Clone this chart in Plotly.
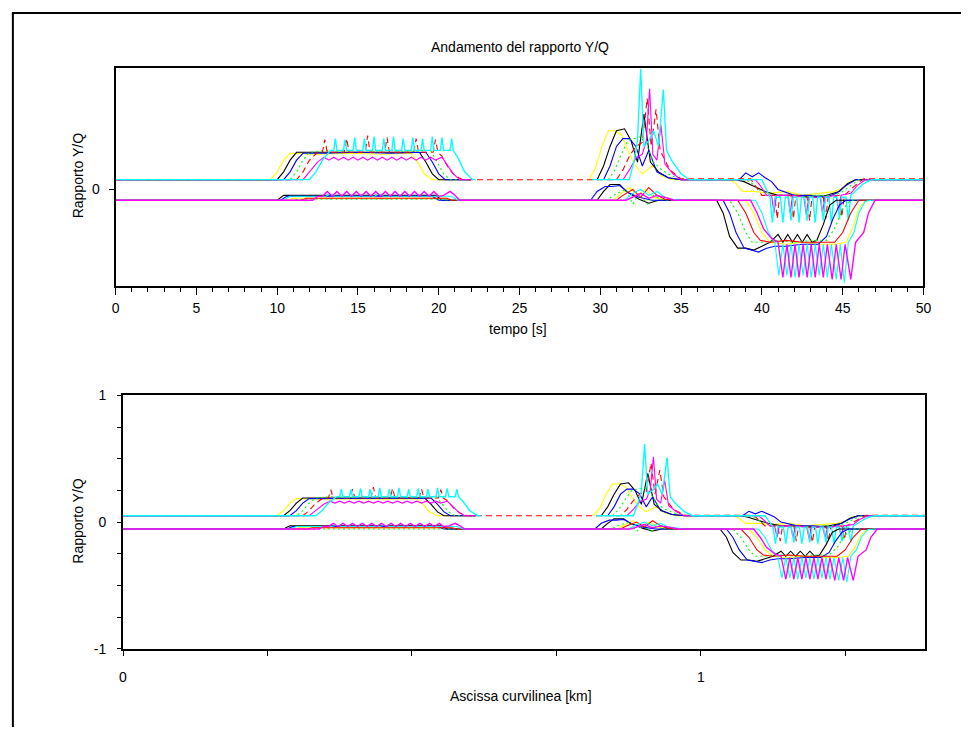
import plotly.graph_objects as go

# ---------------------------------------------------------------------------
# Rapporto Y/Q time histories (s, -) for the wheels of the train.
# Upper group: first-axle family (baseline ~ +0.05)
# Lower group: second-axle family (baseline ~ -0.055)
# Each series is a list of (t, Y/Q) pairs; (None, None) marks a gap.
# ---------------------------------------------------------------------------

U_yellow = [(0, .05), (9.6, .05), (10.0, .09), (10.4, .15), (10.8, .185), (12.5, .18), (14.5, .185),
            (16.5, .18), (18.3, .185), (18.7, .14), (19.1, .08), (19.6, .05), (22.0, .05), (None, None),
            (29.3, .05), (29.7, .11), (30.1, .22), (30.5, .30), (30.9, .30), (31.3, .28), (31.7, .20),
            (32.1, .13), (32.6, .08), (33.2, .12), (33.8, .07), (34.5, .05), (38.0, .05), (38.4, .03),
            (38.8, -.01), (39.5, -.01), (40.5, -.02), (41.5, -.01), (42.5, -.03), (43.5, -.02),
            (44.5, -.01), (45.0, .01), (45.4, .04), (45.9, .05), (50, .05)]

U_black = [(0, .05), (10.0, .05), (10.4, .09), (10.8, .15), (11.2, .19), (13, .19), (15, .19), (17, .19),
           (18.8, .19), (19.2, .14), (19.6, .08), (20.0, .05), (22.0, .05), (None, None),
           (29.8, .05), (30.2, .12), (30.6, .22), (31.0, .30), (31.5, .31), (31.9, .25), (32.3, .14),
           (32.7, .385), (33.1, .14), (33.6, .09), (34.2, .06), (35, .05), (38.4, .05), (38.9, .04),
           (39.4, .02), (40.2, -.01), (41, -.03), (42, -.03), (43, -.04), (44, -.03), (44.8, -.01),
           (45.3, .03), (45.8, .05), (50, .05)]

U_blue = [(0, .05), (10.4, .05), (10.8, .09), (11.2, .15), (11.6, .185), (13, .185), (15, .19),
          (17, .185), (19.2, .19), (19.6, .14), (20.0, .08), (20.4, .05), (22.0, .05), (None, None),
          (30.2, .05), (30.6, .12), (31.0, .22), (31.4, .26), (31.8, .26), (32.2, .22), (32.6, .12),
          (33.0, .20), (33.5, .09), (34.2, .06), (35, .05), (38.6, .05), (39.0, .085), (39.4, .065),
          (39.8, .085), (40.2, .06), (40.6, .04), (41.0, .0), (42, -.03), (43, -.03), (44, -.04),
          (44.6, -.02), (45.2, .02), (45.8, .05), (50, .05)]

U_green = [(0, .05), (10.8, .05), (11.2, .09), (11.6, .15), (12.0, .19), (13, .20), (14, .195),
           (15, .20), (16, .195), (17, .20), (18, .195), (19.5, .20), (19.9, .14), (20.3, .08),
           (20.7, .05), (22.0, .05), (None, None), (30.5, .05), (30.9, .10), (31.3, .18), (31.7, .25),
           (32.1, .26), (32.5, .27), (32.9, .22), (33.3, .14), (33.8, .10), (34.4, .07), (35.2, .05),
           (39.0, .05), (39.4, .03), (39.8, .0), (40.5, -.03), (41.5, -.03), (42.5, -.04), (43.5, -.03),
           (44.5, -.03), (45.0, -.01), (45.5, .02), (46.0, .05), (50, .05)]

U_red = [(0, .05), (11.2, .05), (11.6, .09), (12.0, .15), (12.5, .19), (12.8, .19), (12.95, .255),
         (13.1, .19), (14.15, .19), (14.3, .26), (14.45, .19), (15.45, .19), (15.6, .275), (15.75, .19),
         (16.65, .19), (16.8, .265), (16.95, .19), (18.45, .19), (18.6, .26), (18.75, .19), (19.65, .19),
         (19.8, .255), (19.95, .19), (20.2, .17), (20.6, .11), (21.0, .07), (21.5, .05), (31.0, .05),
         (31.4, .10), (31.8, .17), (32.2, .22), (32.6, .24), (32.9, .465), (33.15, .22), (33.45, .41),
         (33.7, .20), (34.3, .10), (35.0, .054), (39.3, .054), (39.6, .02), (40.0, -.03), (40.8, -.03),
         (40.95, -.15), (41.1, -.03), (41.8, -.03), (41.95, -.15), (42.1, -.03), (42.8, -.04),
         (42.95, -.16), (43.1, -.04), (43.8, -.04), (43.95, -.15), (44.1, -.04), (44.8, -.03),
         (44.95, -.14), (45.1, -.03), (45.5, .0), (45.9, .03), (46.3, .054), (50, .054)]

U_magenta = [(0, .05), (11.6, .05), (12.0, .09), (12.5, .14), (12.9, .165), (13.2, .15), (13.5, .165),
             (13.8, .15), (14.1, .165), (14.4, .15), (14.7, .165), (15.0, .15), (15.3, .165), (15.6, .15),
             (15.9, .165), (16.2, .15), (16.5, .165), (16.8, .15), (17.1, .165), (17.4, .15), (17.7, .165),
             (18.0, .15), (18.3, .165), (18.6, .15), (18.9, .165), (19.2, .15), (19.5, .165), (19.8, .15),
             (20.2, .165), (20.5, .13), (20.9, .08), (21.3, .05), (22.0, .05), (None, None),
             (31.4, .05), (31.8, .10), (32.2, .16), (32.6, .18), (32.85, .25), (33.05, .515), (33.25, .18),
             (33.5, .15), (33.75, .33), (34.0, .13), (34.5, .08), (35.0, .05), (39.6, .05), (39.9, .02),
             (40.3, -.03), (40.6, -.03), (40.75, -.12), (40.9, -.03), (41.6, -.03), (41.75, -.12),
             (41.9, -.03), (42.6, -.04), (42.75, -.13), (42.9, -.04), (43.6, -.04), (43.75, -.12),
             (43.9, -.04), (44.6, -.03), (44.75, -.11), (44.9, -.03), (45.5, -.02), (45.9, .02),
             (46.4, .05), (50, .05)]

U_cyan = [(0, .05), (12.0, .05), (12.4, .09), (12.8, .15), (13.3, .2), (13.5, .2), (13.6, .26), (13.7, .2),
          (14.1, .2), (14.2, .255), (14.3, .2), (14.7, .2), (14.8, .265), (14.9, .2), (15.3, .2), (15.4, .26),
          (15.5, .2), (15.9, .2), (16.0, .27), (16.1, .2), (16.5, .2), (16.6, .26), (16.7, .2), (17.1, .2),
          (17.2, .27), (17.3, .2), (17.7, .2), (17.8, .26), (17.9, .2), (18.3, .2), (18.4, .265), (18.5, .2),
          (18.9, .2), (19.0, .26), (19.1, .2), (19.5, .2), (19.6, .27), (19.7, .2), (20.1, .2), (20.2, .265),
          (20.3, .2), (20.7, .2), (20.8, .26), (20.9, .2), (21.2, .16), (21.6, .09), (22.1, .05), (22.3, .05),
          (None, None), (29.5, .05), (31.8, .05), (32.1, .15), (32.3, .25), (32.5, .615), (32.7, .22),
          (33.0, .25), (33.3, .30), (33.6, .22), (33.9, .51), (34.1, .20), (34.4, .15), (35.0, .08),
          (35.5, .05), (40.0, .05), (40.3, .0), (40.5, -.04), (40.65, -.17), (40.8, -.04), (41.15, -.04),
          (41.3, -.17), (41.45, -.04), (41.65, -.04), (41.8, -.16), (41.95, -.04), (42.15, -.04),
          (42.3, -.17), (42.45, -.04), (42.65, -.04), (42.8, -.16), (42.95, -.04), (43.15, -.04),
          (43.3, -.17), (43.45, -.04), (43.65, -.04), (43.8, -.16), (43.95, -.04), (44.15, -.04),
          (44.3, -.17), (44.45, -.04), (44.65, -.04), (44.8, -.15), (44.95, -.04), (45.2, -.04),
          (45.35, -.16), (45.5, -.03), (45.9, .0), (46.3, .03), (46.8, .05), (50, .05)]

L_yellow = [(0, -.055), (10.6, -.055), (11.0, -.045), (20.4, -.045), (20.8, -.055), (30.8, -.055),
            (31.3, -.02), (31.8, .01), (32.3, -.03), (32.8, .0), (33.3, -.04), (34.0, -.055), (39.0, -.055),
            (39.5, -.12), (40.0, -.22), (40.5, -.27), (41.5, -.28), (42.5, -.27), (43.5, -.28), (44.5, -.28),
            (45.2, -.27), (45.6, -.20), (46.0, -.10), (46.4, -.055), (50, -.055)]

L_black = [(0, -.055), (10.0, -.055), (10.4, -.03), (19.8, -.03), (20.2, -.055), (29.8, -.055),
           (30.2, -.01), (30.6, .025), (31.2, .025), (31.6, -.01), (32.0, -.03), (32.4, -.05), (33.0, -.07),
           (33.6, -.055), (37.2, -.055), (37.6, -.12), (38.0, -.24), (38.5, -.30), (39.0, -.30),
           (39.5, -.31), (40.0, -.29), (40.5, -.27), (41.0, -.23), (41.3, -.27), (41.6, -.23), (41.9, -.27),
           (42.2, -.23), (42.5, -.27), (42.8, -.23), (43.1, -.27), (43.4, -.26), (43.8, -.18), (44.2, -.08),
           (44.6, -.055), (50, -.055)]

L_blue = [(0, -.055), (10.2, -.055), (10.6, -.035), (19.6, -.035), (20.0, -.055), (29.4, -.055),
          (29.8, -.01), (30.3, .015), (30.7, .015), (31.2, .02), (31.8, -.02), (32.4, -.04), (33.2, -.055),
          (37.6, -.055), (38.0, -.12), (38.4, -.22), (38.9, -.30), (39.4, -.31), (39.8, -.32), (40.3, -.30),
          (40.8, -.29), (41.5, -.29), (42.5, -.28), (43.5, -.28), (44.0, -.24), (44.4, -.15), (44.8, -.08),
          (45.2, -.055), (50, -.055)]

L_green = [(0, -.055), (11.0, -.055), (11.3, -.05), (20.3, -.05), (20.6, -.055), (30.4, -.055),
           (31.0, -.02), (31.6, .0), (32.0, -.075), (32.4, -.02), (32.9, -.075), (33.3, -.03), (33.8, -.05),
           (34.4, -.055), (38.0, -.055), (38.5, -.12), (39.0, -.22), (39.4, -.27), (40.0, -.27),
           (41.0, -.26), (42.0, -.27), (43.0, -.26), (44.0, -.26), (44.5, -.20), (45.0, -.10),
           (45.5, -.055), (50, -.055)]

L_red = [(0, -.055), (11.5, -.055), (11.8, -.045), (20.5, -.045), (20.8, -.055), (31.0, -.055),
         (31.4, -.03), (32.0, .0), (32.5, -.04), (33.0, .01), (33.5, -.03), (34.0, -.05), (34.6, -.055),
         (38.5, -.055), (39.0, -.12), (39.5, -.22), (39.9, -.26), (40.5, -.27), (41.5, -.26), (42.5, -.27),
         (43.5, -.27), (44.5, -.27), (45.0, -.22), (45.5, -.12), (46.0, -.055), (50, -.055)]

L_cyan = [(0, -.055), (10.4, -.055), (10.8, -.035), (13, -.035), (13.3, -.025), (13.6, -.035),
          (16, -.035), (16.3, -.025), (16.6, -.035), (19, -.035), (20.8, -.035), (21.2, -.055),
          (31.5, -.055), (32.0, -.02), (32.5, .0), (33.0, -.03), (33.5, -.01), (34.0, -.04), (34.5, -.05),
          (35.0, -.055), (39.6, -.055), (40.0, -.12), (40.4, -.22), (40.8, -.27), (41.05, -.44),
          (41.3, -.28), (41.55, -.44), (41.8, -.28), (42.05, -.45), (42.3, -.28), (42.55, -.44),
          (42.8, -.28), (43.05, -.45), (43.3, -.28), (43.55, -.44), (43.8, -.28), (44.05, -.45),
          (44.3, -.28), (44.6, -.46), (44.85, -.28), (45.1, -.475), (45.35, -.27), (45.7, -.22),
          (46.0, -.12), (46.4, -.06), (46.8, -.055), (50, -.055)]

L_magenta = [(0, -.055), (12.2, -.055), (12.5, -.035), (12.8, -.035), (13.1, -.01), (13.4, -.035),
             (13.7, -.01), (14.0, -.035), (14.3, -.01), (14.6, -.035), (14.9, -.01), (15.2, -.035),
             (15.5, -.01), (15.8, -.035), (16.1, -.01), (16.4, -.035), (16.7, -.01), (17.0, -.035),
             (17.3, -.01), (17.6, -.035), (17.9, -.01), (18.2, -.035), (18.5, -.01), (18.8, -.035),
             (19.1, -.01), (19.4, -.035), (19.7, -.01), (20.0, -.035), (20.3, -.03), (20.7, -.01),
             (21.0, -.03), (21.3, -.055), (31.6, -.055), (32.0, -.04), (32.5, -.02), (33.0, -.045),
             (33.5, -.03), (34.0, -.04), (34.6, -.055), (39.3, -.055), (39.7, -.12), (40.1, -.20),
             (40.6, -.25), (41.0, -.27), (41.3, -.45), (41.55, -.28), (41.8, -.45), (42.05, -.28),
             (42.3, -.45), (42.55, -.28), (42.8, -.45), (43.05, -.28), (43.3, -.45), (43.55, -.28),
             (43.8, -.45), (44.05, -.28), (44.35, -.46), (44.6, -.28), (44.9, -.46), (45.15, -.28),
             (45.5, -.46), (45.8, -.27), (46.3, -.22), (46.6, -.12), (47.0, -.055), (50, -.055)]

# train speed used to turn time into travelled distance (km/h)
SPEED_KMH = 100.0

RED_DASH = "6px,4px"
GREEN_DOT = "2px,3px"

# drawing order, colour, dash and width for every series
# (the last series of each group is drawn slightly wider so its baseline stays on top)
SERIES = [
    (U_yellow, "#ffff00", "solid", 1.1), (U_black, "#000000", "solid", 1.1),
    (U_blue, "#0000ff", "solid", 1.1), (U_green, "#00ff00", GREEN_DOT, 1.1),
    (U_red, "#ff0000", RED_DASH, 1.1), (U_magenta, "#ff00ff", "solid", 1.1),
    (U_cyan, "#00ffff", "solid", 1.35),
    (L_yellow, "#ffff00", "solid", 1.1), (L_black, "#000000", "solid", 1.1),
    (L_blue, "#0000ff", "solid", 1.1), (L_green, "#00ff00", GREEN_DOT, 1.1),
    (L_red, "#ff0000", "solid", 1.1), (L_cyan, "#00ffff", "solid", 1.1),
    (L_magenta, "#ff00ff", "solid", 1.35),
]

W, H = 969, 735
FONT = "Liberation Sans, Arial, sans-serif"


def px(x):
    """pixel x -> paper fraction"""
    return x / W


def py(y):
    """pixel y (from top) -> paper fraction"""
    return 1 - y / H


fig = go.Figure()
for pts, col, dash, lw in SERIES:
    t = [p[0] for p in pts]
    v = [p[1] for p in pts]
    km = [None if a is None else a * SPEED_KMH / 3600.0 for a in t]
    line = dict(color=col, width=lw, dash=dash)
    fig.add_trace(go.Scatter(x=t, y=v, mode="lines", line=line, xaxis="x", yaxis="y",
                             showlegend=False, hoverinfo="skip", connectgaps=False))
    fig.add_trace(go.Scatter(x=km, y=v, mode="lines", line=line, xaxis="x2", yaxis="y2",
                             showlegend=False, hoverinfo="skip", connectgaps=False))

axis_common = dict(showgrid=False, zeroline=False, showline=True, linecolor="black", linewidth=2,
                   mirror=True, ticks="outside", tickcolor="black", tickwidth=1,
                   tickfont=dict(family=FONT, size=14, color="black"))

fig.update_layout(
    width=W, height=H, margin=dict(l=0, r=0, t=0, b=0),
    paper_bgcolor="white", plot_bgcolor="white",
    xaxis=dict(domain=[px(113), px(931)], range=[0, 50], tickvals=list(range(0, 51, 5)),
               ticklen=7, ticklabelstandoff=1,
               minor=dict(dtick=1, ticklen=4, ticks="outside", tickcolor="black"),
               anchor="y", **axis_common),
    yaxis=dict(domain=[py(284.5), py(61.5)], range=[-0.495, 0.62], tickvals=[0], ticklen=5,
               ticklabelstandoff=6, anchor="x", **axis_common),
    xaxis2=dict(domain=[px(120.5), px(933)], range=[0, 50 * SPEED_KMH / 3600.0], tickvals=[0, 1],
                ticklen=5, ticklabelstandoff=9,
                minor=dict(dtick=0.25, ticklen=5, ticks="outside", tickcolor="black"),
                anchor="y2", **axis_common),
    yaxis2=dict(domain=[py(655), py(396)], range=[-1, 1], tickvals=[-1, 0, 1],
                ticktext=["-1", "0", "1"], ticklen=4, ticklabelstandoff=8,
                minor=dict(dtick=0.25, ticklen=4, ticks="outside", tickcolor="black"),
                anchor="x2", **axis_common),
)

txt = dict(family=FONT, size=14, color="black")
fig.add_annotation(text="Andamento del rapporto Y/Q", x=px(522), y=py(40), xref="paper", yref="paper",
                   showarrow=False, font=txt, xanchor="center", yanchor="middle")
fig.add_annotation(text="tempo [s]", x=px(520), y=py(328), xref="paper", yref="paper",
                   showarrow=False, font=txt, xanchor="center", yanchor="middle")
fig.add_annotation(text="Ascissa curvilinea [km]", x=px(523), y=py(703), xref="paper", yref="paper",
                   showarrow=False, font=txt, xanchor="center", yanchor="middle")
fig.add_annotation(text="Rapporto Y/Q", x=px(75), y=py(172), xref="paper", yref="paper",
                   showarrow=False, font=txt, textangle=-90, xanchor="center", yanchor="middle")
fig.add_annotation(text="Rapporto Y/Q", x=px(75), y=py(525), xref="paper", yref="paper",
                   showarrow=False, font=txt, textangle=-90, xanchor="center", yanchor="middle")

# window border (left and top edges)
fig.add_shape(type="line", xref="paper", yref="paper", x0=px(9), x1=px(9), y0=0, y1=py(5),
              line=dict(color="black", width=2))
fig.add_shape(type="line", xref="paper", yref="paper", x0=px(8), x1=1, y0=py(5), y1=py(5),
              line=dict(color="black", width=2))

fig.write_html("out.html")
